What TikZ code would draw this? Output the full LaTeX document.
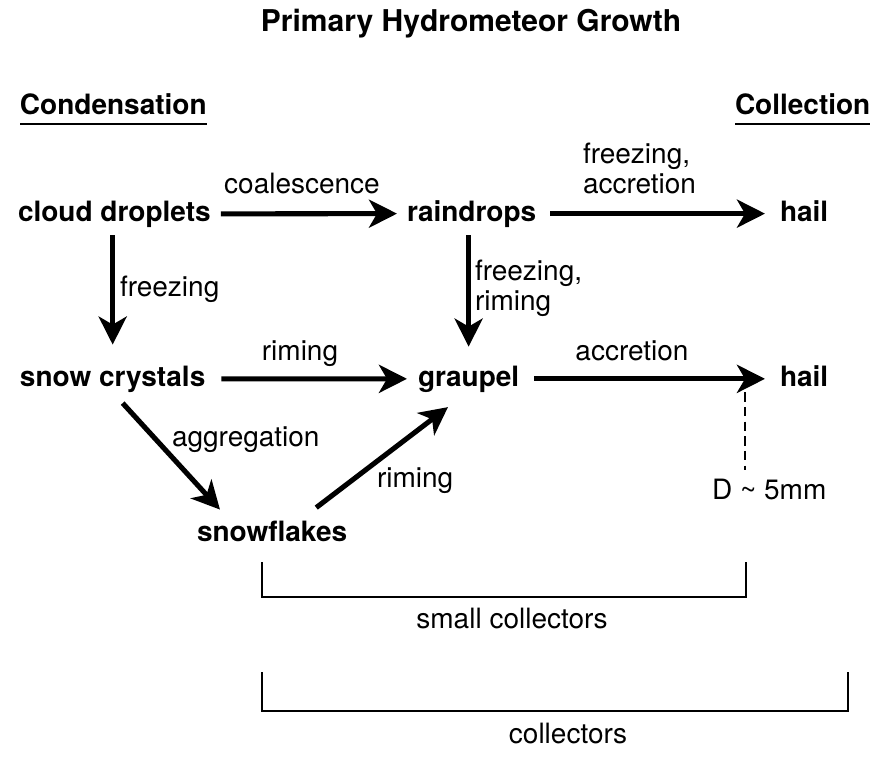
\documentclass[tikz,border=0pt]{standalone}
\usepackage{fontspec}
\setmainfont{TeX Gyre Heros}
\usetikzlibrary{arrows.meta,calc}
\begin{document}
\begin{tikzpicture}[x=0.75pt,y=-0.75pt,
  every node/.style={inner sep=0pt, outer sep=0pt},
  bold/.style={font=\fontsize{21}{25}\selectfont\bfseries},
  lbl/.style={font=\fontsize{21}{22.5}\selectfont},
  ttl/.style={font=\fontsize{22.5}{27}\selectfont\bfseries},
  arr/.style={line width=3.8pt, -{Stealth[length=21pt,width=21pt,inset=6pt]}},
  uline/.style={line width=1.6pt},
  bracket/.style={line width=1.1pt},
  dashline/.style={line width=1.8pt, dash pattern=on 7pt off 4pt}]
\useasboundingbox[fill=white] (0,0) rectangle (890,758);

\node[ttl, anchor=base] (title) at (471,31) {Primary Hydrometeor Growth};
\node[bold, anchor=base west] (cond) at (20,114) {Condensation};
\node[bold, anchor=base west] (coll) at (735,114) {Collection};
\draw[uline] ($(cond.south west)+(0,10)$) -- ($(cond.south east)+(0,10)$);
\draw[uline] ($(coll.south west)+(0,10)$) -- ($(coll.south east)+(0,10)$);

\node[bold, anchor=base west] (cd) at (18,221) {cloud droplets};
\node[bold, anchor=base west] (rd) at (407,221) {raindrops};
\node[bold, anchor=base west] (h1) at (780,221) {hail};
\node[bold, anchor=base west] (sc) at (20,386) {snow crystals};
\node[bold, anchor=base west] (gr) at (418,386) {graupel};
\node[bold, anchor=base west] (h2) at (780,386) {hail};
\node[bold, anchor=base west] (sf) at (197,541) {snowflakes};

\node[lbl, anchor=base] (lcoal) at (302,193) {coalescence};
\node[lbl, anchor=west, align=left] (lfa) at (583,168) {freezing,\\accretion};
\node[lbl, anchor=base west] (lfr) at (120,296) {freezing};
\node[lbl, anchor=west, align=left] (lfrr) at (475,288) {freezing,\\riming};
\node[lbl, anchor=base] (lrim1) at (300,360) {riming};
\node[lbl, anchor=base] (lacc) at (632,360) {accretion};
\node[lbl, anchor=base west] (lagg) at (172,446) {aggregation};
\node[lbl, anchor=base west] (lrim2) at (377,487) {riming};
\node[lbl, anchor=base west] (ld) at (712,499) {D \textasciitilde{} 5mm};
\node[lbl, anchor=base] (lsc) at (512,628) {small collectors};
\node[lbl, anchor=base] (lc) at (568,743) {collectors};

\draw[arr] ($(cd.east)+(10,0)$) -- ($(rd.west)+(-10,0)$);
\draw[arr] ($(rd.east)+(14,0)$) -- ($(rd.east -| h1.west)+(-15,0)$);
\draw[arr] ($(sc.east)+(16,0)$) -- ($(gr.west)+(-11,0)$);
\draw[arr] ($(gr.east)+(15,0)$) -- ($(gr.east -| h2.west)+(-15,0)$);
\draw[arr] ($(cd.south -| sc.north)+(0,8)$) -- ($(sc.north)+(0,-21)$);
\draw[arr] ($(rd.south -| gr.north)+(0,8)$) -- ($(gr.north)+(0,-19)$);
\draw[arr] ($(sc.south)+(10,11)$) -- ($(sf.north west)+(23,-11)$);
\draw[arr] ($(sf.north east)+(-31,-13)$) -- ($(gr.south west)+(30,15)$);

\draw[dashline] ($(h2.south west)+(-35,6)$) -- ($(ld.north west)+(33,-9)$);

\draw[bracket] (262,562) -- (262,597) -- (746,597) -- (746,562);
\draw[bracket] (262,672) -- (262,711) -- (848,711) -- (848,672);
\end{tikzpicture}
\end{document}
